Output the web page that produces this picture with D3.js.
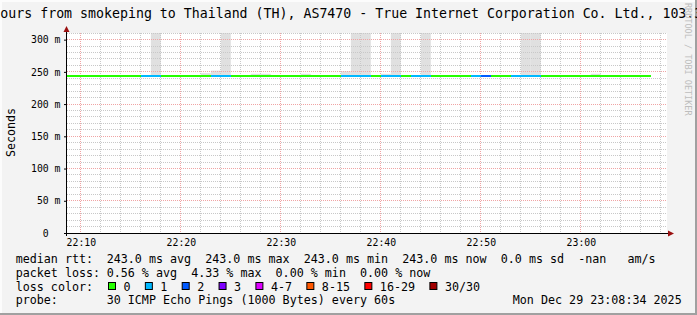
<!DOCTYPE html>
<html>
<head>
<meta charset="utf-8">
<script src="https://cdn.jsdelivr.net/npm/d3@7"></script>
<style>
body{margin:0;background:#f3f3f3;}
svg{display:block;}
text{font-family:"DejaVu Sans Mono",monospace;white-space:pre;}
</style>
</head>
<body>
<div id="canvas"></div>
<script>
//data, one value per minute starting 22:08
var startMinute = '2025-12-29 22:08';
var rttMedian = [243.0,243.0,243.0,243.0,243.0,243.0,243.0,243.0,243.0,243.0,
                 243.0,243.0,243.0,243.0,243.0,243.0,243.0,243.0,243.0,243.0,
                 243.0,243.0,243.0,243.0,243.0,243.0,243.0,243.0,243.0,243.0,
                 243.0,243.0,243.0,243.0,243.0,243.0,243.0,243.0,243.0,243.0,
                 243.0,243.0,243.0,243.0,243.0,243.0,243.0,243.0,243.0,243.0,
                 243.0,243.0,243.0,243.0,243.0,243.0,243.0,243.0,243.0];
var lossCount = [0,0,0,0,0,0,0,0,1,1,
                 0,0,0,0,0,1,1,0,0,0,
                 0,0,0,0,0,0,0,0,1,1,
                 1,0,1,1,0,1,1,0,0,0,
                 0,1,2,0,0,1,1,1,0,0,
                 0,0,0,0,0,0,0,0,0];
//top of the smoke (ms), null = no smoke that minute
var smokeHigh = [null,null,null,null,null,null,null,null,null,311,
                 null,null,null,null,248,252,311,null,null,247,
                 247,null,null,null,247,null,null,null,251,311,
                 311,null,247,311,null,null,311,null,null,null,
                 null,null,null,null,null,null,311,311,null,null,
                 null,null,null,247,null,null,null,null,null];

var lossBins = ['0','1','2','3','4-7','8-15','16-29','30/30'];
var lossColors = ['#26ff00','#00b8ff','#0059ff','#7e00ff','#dd00ff','#ff5700','#ff0000','#a10000'];

var yTicks = [0,50,100,150,200,250,300];
var yTickLabels = ['0\u00a0\u00a0','50 m','100 m','150 m','200 m','250 m','300 m'];
var xTicks = ['22:10','22:20','22:30','22:40','22:50','23:00'];

var titleText = 'ours from smokeping to Thailand (TH), AS7470 - True Internet Corporation Co. Ltd., 103.3';
var rttStats = '243.0 ms avg  243.0 ms max  243.0 ms min  243.0 ms now  0.0 ms sd  -nan   am/s';
var lossStats = '0.56 % avg  4.33 % max  0.00 % min  0.00 % now';
var probeText = '30 ICMP Echo Pings (1000 Bytes) every 60s';
var dateText = 'Mon Dec 29 23:08:34 2025';

//margin convention, plot area is 600 x 200
var outerWidth = 697, outerHeight = 315;
var m = {t:33,r:30,b:82,l:67};
var w = outerWidth - m.l - m.r,
    h = outerHeight - m.t - m.b;

var svg = d3.select('#canvas')
    .append('svg')
    .attr('width',outerWidth)
    .attr('height',outerHeight);

svg.append('rect').attr('width',outerWidth).attr('height',outerHeight).attr('fill','#f3f3f3');
//3d border
svg.append('rect').attr('x',0).attr('y',0).attr('width',outerWidth).attr('height',2).attr('fill','#fcfcfc');
svg.append('rect').attr('x',0).attr('y',0).attr('width',2).attr('height',outerHeight).attr('fill','#fcfcfc');
svg.append('rect').attr('x',outerWidth-2).attr('y',0).attr('width',2).attr('height',outerHeight).attr('fill','#a0a0a0');
svg.append('rect').attr('x',0).attr('y',outerHeight-2).attr('width',outerWidth).attr('height',2).attr('fill','#a0a0a0');

var plot = svg.append('g')
    .attr('transform','translate(' + m.l + ',' + m.t + ')');

var parseMin = d3.utcParse('%Y-%m-%d %H:%M');
var day = startMinute.slice(0,10);
var t0 = parseMin(startMinute);
var minuteAt = function(i){ return d3.utcMinute.offset(t0,i); };

var scaleX = d3.scaleUtc()
    .domain([d3.utcSecond.offset(t0,37), d3.utcSecond.offset(t0,37+3600)])
    .range([0,w]);
var scaleY = d3.scaleLinear()
    .domain([0,310.3])
    .range([h,0]);

plot.append('rect').attr('width',w).attr('height',h).attr('fill','#ffffff');

plot.append('clipPath').attr('id','clip')
    .append('rect').attr('width',w).attr('height',h);

var data = rttMedian.map(function(v,i){
    var c = lossCount[i], bin;
    if (c <= 3) bin = c;
    else if (c <= 7) bin = 4;
    else if (c <= 15) bin = 5;
    else if (c < 30) bin = 6;
    else bin = 7;
    return {t0:minuteAt(i), t1:minuteAt(i+1), median:v, bin:bin, smoke:smokeHigh[i]};
});

//smoke
plot.append('g').attr('clip-path','url(#clip)')
    .selectAll('rect')
    .data(data.filter(function(d){return d.smoke !== null;}))
    .enter()
    .append('rect')
    .attr('x',function(d){return scaleX(d.t0);})
    .attr('width',function(d){return scaleX(d.t1) - scaleX(d.t0);})
    .attr('y',function(d){return scaleY(d.smoke);})
    .attr('height',function(d){return scaleY(d.median) - scaleY(d.smoke);})
    .attr('fill','#e0e0e0');

//grid, minor then major
var snap = function(v){ return Math.floor(v) + 0.5; };
var grid = plot.append('g').attr('shape-rendering','crispEdges').attr('stroke-dasharray','1,1');

var minorX = d3.utcMinute.every(2).range(scaleX.domain()[0], scaleX.domain()[1]).filter(function(d){return d.getUTCMinutes() % 10 !== 0;});
var majorX = d3.utcMinute.every(10).range(scaleX.domain()[0], scaleX.domain()[1]);
var minorY = d3.range(10,311,10).filter(function(v){return v % 50 !== 0;});
var majorY = d3.range(50,311,50);

grid.selectAll('.minor-x').data(minorX).enter().append('line')
    .attr('x1',function(d){return snap(scaleX(d));}).attr('x2',function(d){return snap(scaleX(d));})
    .attr('y1',0).attr('y2',h)
    .attr('stroke','#c8c8c8');
grid.selectAll('.minor-y').data(minorY).enter().append('line')
    .attr('x1',0).attr('x2',w)
    .attr('y1',function(d){return snap(scaleY(d));}).attr('y2',function(d){return snap(scaleY(d));})
    .attr('stroke','#c8c8c8');
grid.selectAll('.major-x').data(majorX).enter().append('line')
    .attr('x1',function(d){return snap(scaleX(d));}).attr('x2',function(d){return snap(scaleX(d));})
    .attr('y1',0).attr('y2',h)
    .attr('stroke','#f0a4a4');
grid.selectAll('.major-y').data(majorY).enter().append('line')
    .attr('x1',0).attr('x2',w)
    .attr('y1',function(d){return snap(scaleY(d));}).attr('y2',function(d){return snap(scaleY(d));})
    .attr('stroke','#f0a4a4');

//median line coloured by loss
plot.append('g').attr('clip-path','url(#clip)')
    .selectAll('line')
    .data(data)
    .enter()
    .append('line')
    .attr('x1',function(d){return scaleX(d.t0);})
    .attr('x2',function(d){return scaleX(d.t1);})
    .attr('y1',function(d){return scaleY(d.median);})
    .attr('y2',function(d){return scaleY(d.median);})
    .attr('stroke',function(d){return lossColors[d.bin];})
    .attr('stroke-width',2)
    .attr('shape-rendering','crispEdges');

//axes
var axisY = d3.axisLeft()
    .scale(scaleY)
    .tickValues(yTicks)
    .tickFormat(function(d,i){return yTickLabels[i];})
    .tickSize(3)
    .tickPadding(3.5);
plot.append('g')
    .attr('class','axis axis-y')
    .call(axisY)
    .call(function(g){ g.select('.domain').remove(); })
    .selectAll('text')
    .attr('font-family','DejaVu Sans Mono')
    .attr('font-size','9.8px')
    .attr('fill','#000');

var axisX = d3.axisBottom()
    .scale(scaleX)
    .tickValues(xTicks.map(function(s){return parseMin(day + ' ' + s);}))
    .tickFormat(d3.utcFormat('%H:%M'))
    .tickSize(0)
    .tickPadding(5.7);
plot.append('g')
    .attr('class','axis axis-x')
    .attr('transform','translate(0,' + h + ')')
    .call(axisX)
    .call(function(g){ g.select('.domain').remove(); })
    .selectAll('text')
    .attr('font-family','DejaVu Sans Mono')
    .attr('font-size','9.8px')
    .attr('fill','#000');

//axis lines with arrows
plot.append('line').attr('x1',-3).attr('x2',w+3).attr('y1',h+0.5).attr('y2',h+0.5)
    .attr('stroke','#000').attr('shape-rendering','crispEdges');
plot.append('line').attr('x1',-0.5).attr('x2',-0.5).attr('y1',h+3).attr('y2',-3)
    .attr('stroke','#000').attr('shape-rendering','crispEdges');
plot.append('path').attr('d','M-3.5,-1L2.5,-1L-0.5,-7Z').attr('fill','#9a1010');
plot.append('path').attr('d','M' + (w+1) + ',' + (h-2.5) + 'L' + (w+1) + ',' + (h+3.5) + 'L' + (w+7) + ',' + (h+0.5) + 'Z').attr('fill','#9a1010');

//title and side texts
svg.append('text').attr('x',0.3).attr('y',18).attr('font-size','13.25px').attr('fill','#000').text(titleText);

svg.append('text')
    .attr('transform','translate(15.3,132.5) rotate(-90)')
    .attr('text-anchor','middle')
    .attr('font-size','11.6px')
    .attr('fill','#000')
    .text('Seconds');

svg.append('text')
    .attr('transform','translate(685,3) rotate(90)')
    .attr('font-size','8.5px')
    .attr('fill','#bdbdbd')
    .text('RRDTOOL / TOBI OETIKER');

//legend
var cw = 7.05, lx = 15.7, vx = 106.7;
var rows = [263.3, 277, 290.7, 304.3];
var legend = svg.append('g').attr('font-size','11.7px').attr('fill','#000');

legend.append('text').attr('x',lx).attr('y',rows[0]).text('median rtt:');
legend.append('text').attr('x',vx).attr('y',rows[0]).text(rttStats);
legend.append('text').attr('x',lx).attr('y',rows[1]).text('packet loss:');
legend.append('text').attr('x',vx).attr('y',rows[1]).text(lossStats);
legend.append('text').attr('x',lx).attr('y',rows[2]).text('loss color:');
legend.append('text').attr('x',lx).attr('y',rows[3]).text('probe:');
legend.append('text').attr('x',vx).attr('y',rows[3]).text(probeText);
legend.append('text').attr('x',512.8).attr('y',rows[3]).text(dateText);

var bx = 108;
lossBins.forEach(function(b,i){
    legend.append('rect')
        .attr('x',bx + 0.5).attr('y',282.5)
        .attr('width',7).attr('height',7)
        .attr('fill',lossColors[i])
        .attr('stroke','#000');
    legend.append('text').attr('x',bx + 15.5).attr('y',rows[2]).text(b);
    bx += 15.7 + b.length*cw + 2*cw;
});
</script>
</body>
</html>
